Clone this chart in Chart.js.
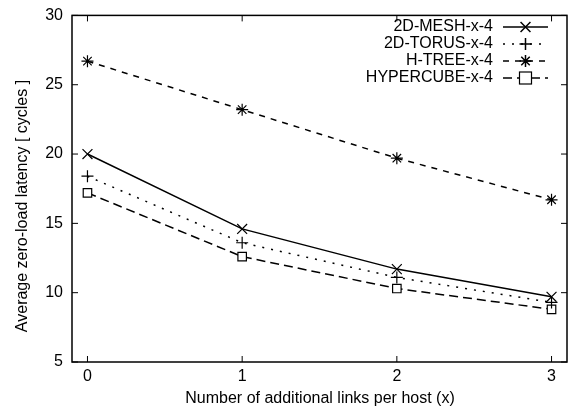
<!DOCTYPE html>
<html>
<head>
<meta charset="utf-8">
<script src="https://cdn.jsdelivr.net/npm/chart.js@4.4.0/dist/chart.umd.min.js"></script>
<style>
  html, body { margin: 0; padding: 0; background: #fff; }
</style>
</head>
<body>
<canvas id="chart" width="577" height="414"></canvas>
<script>
const hosts = [0, 1, 2, 3];
const meshLatency = [20.0, 14.6, 11.7, 9.7];
const torusLatency = [18.4, 13.6, 11.1, 9.3];
const htreeLatency = [26.7, 23.2, 19.7, 16.7];
const hypercubeLatency = [17.2, 12.6, 10.3, 8.8];
const yTicks = [5, 10, 15, 20, 25, 30];
const xTitle = 'Number of additional links per host (x)';
const yTitle = 'Average zero-load latency [ cycles ]';

const FONT = 'Liberation Sans, Arial, sans-serif';

function pts(vals) {
    return hosts.map((x, i) => ({ x: x, y: vals[i] }));
}

const series = [
    { label: '2D-MESH-x-4', data: meshLatency, dash: [], style: 'crossRot', radius: 7, fill: '#000' },
    { label: '2D-TORUS-x-4', data: torusLatency, dash: [2, 7], style: 'cross', radius: 6, fill: '#000' },
    { label: 'H-TREE-x-4', data: htreeLatency, dash: [6, 6], style: 'star', radius: 6, fill: '#000' },
    { label: 'HYPERCUBE-x-4', data: hypercubeLatency, dash: [9, 5], style: 'rect', radius: 6, fill: '#fff' }
];

// gnuplot style frame with inward ticks on all sides, axis titles and legend
const framePlugin = {
    id: 'frame',
    afterDatasetsDraw(chart) {
        const { ctx, chartArea: a, scales } = chart;
        ctx.save();
        ctx.strokeStyle = '#000';
        ctx.lineWidth = 1.5;
        ctx.setLineDash([]);
        ctx.strokeRect(a.left, a.top, a.right - a.left, a.bottom - a.top);
        ctx.lineWidth = 1;
        hosts.forEach(v => {
            const px = scales.x.getPixelForValue(v);
            ctx.beginPath();
            ctx.moveTo(px, a.bottom); ctx.lineTo(px, a.bottom - 6);
            ctx.moveTo(px, a.top); ctx.lineTo(px, a.top + 6);
            ctx.stroke();
        });
        yTicks.forEach(v => {
            const py = scales.y.getPixelForValue(v);
            ctx.beginPath();
            ctx.moveTo(a.left, py); ctx.lineTo(a.left + 6, py);
            ctx.moveTo(a.right, py); ctx.lineTo(a.right - 6, py);
            ctx.stroke();
        });

        ctx.font = '16px ' + FONT;
        ctx.fillStyle = '#000';
        ctx.textAlign = 'center';
        ctx.textBaseline = 'middle';
        ctx.fillText(xTitle, 320, 399);
        ctx.save();
        ctx.translate(23, 206);
        ctx.rotate(-Math.PI / 2);
        ctx.fillText(yTitle, 0, 0);
        ctx.restore();

        // legend
        ctx.textAlign = 'right';
        const textX = 493, x0 = 503, x1 = 548;
        chart.data.datasets.forEach((ds, i) => {
            const y = 27 + i * 17;
            ctx.fillText(ds.label, textX, y);
            ctx.beginPath();
            ctx.lineWidth = 1.5;
            ctx.setLineDash(series[i].dash);
            ctx.moveTo(x0, y); ctx.lineTo(x1, y);
            ctx.stroke();
            ctx.setLineDash([]);
            const cx = (x0 + x1) / 2;
            if (series[i].style === 'rect') {
                ctx.fillStyle = '#fff';
                ctx.lineWidth = 1.2;
                ctx.fillRect(cx - 6, y - 6, 12, 12);
                ctx.strokeRect(cx - 6, y - 6, 12, 12);
                ctx.fillStyle = '#000';
            } else {
                Chart.helpers.drawPoint(ctx, {
                    pointStyle: series[i].style,
                    radius: series[i].radius,
                    borderWidth: 1.2
                }, cx, y);
            }
        });
        ctx.restore();
    }
};

new Chart(document.getElementById('chart').getContext('2d'), {
    type: 'line',
    data: {
        datasets: series.map(s => ({
            label: s.label,
            data: pts(s.data),
            borderColor: '#000',
            borderWidth: 1.5,
            borderDash: s.dash,
            pointStyle: s.style,
            pointRadius: s.radius,
            pointBorderWidth: 1.2,
            pointBorderColor: '#000',
            pointBackgroundColor: s.fill,
            tension: 0,
            fill: false
        }))
    },
    options: {
        responsive: false,
        animation: false,
        devicePixelRatio: 1,
        layout: { padding: { top: 0, right: 10, left: 0, bottom: 0 } },
        plugins: {
            legend: { display: false },
            tooltip: { enabled: false }
        },
        scales: {
            x: {
                type: 'linear',
                min: -0.1,
                max: 3.1,
                afterBuildTicks(scale) { scale.ticks = hosts.map(v => ({ value: v })); },
                afterFit(scale) { scale.height = 52; },
                grid: { display: false, drawTicks: false },
                border: { display: false },
                ticks: { color: '#000', font: { family: FONT, size: 16 }, padding: 5, maxRotation: 0 }
            },
            y: {
                min: 5,
                max: 30,
                afterBuildTicks(scale) { scale.ticks = yTicks.map(v => ({ value: v })); },
                afterFit(scale) { scale.width = 72; },
                grid: { display: false, drawTicks: false },
                border: { display: false },
                ticks: { color: '#000', font: { family: FONT, size: 16, lineHeight: 0.8 }, padding: 9 }
            }
        }
    },
    plugins: [framePlugin]
});
</script>
</body>
</html>
